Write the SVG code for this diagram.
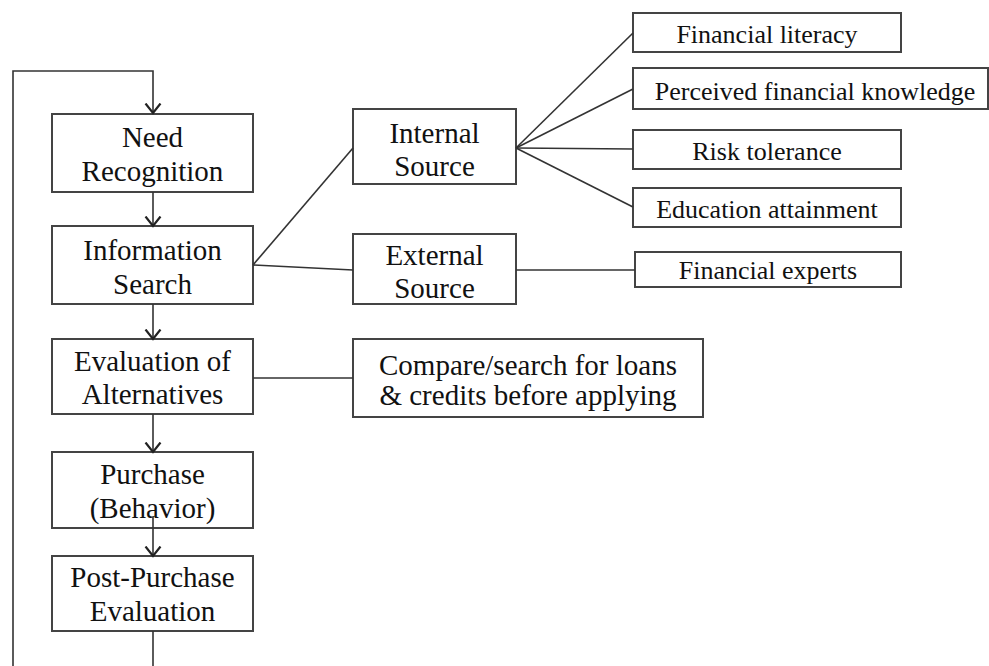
<svg xmlns="http://www.w3.org/2000/svg" width="989" height="666" viewBox="0 0 989 666">
  <defs>
    <style>
      .box { fill: #ffffff; stroke: #444444; stroke-width: 2; }
      .link { fill: none; stroke: #333333; stroke-width: 1.6; }
      .main { font-family: "Liberation Serif", "Times New Roman", serif; font-size: 29px; fill: #111111; text-anchor: middle; }
      .small { font-family: "Liberation Serif", "Times New Roman", serif; font-size: 26px; fill: #111111; text-anchor: middle; }
    </style>
    <!-- open V arrowhead, tip at the end of the line -->
    <marker id="chevron" markerUnits="userSpaceOnUse" markerWidth="12" markerHeight="18" viewBox="0 0 12 18" refX="10.5" refY="9" orient="auto">
      <path d="M1,1.5 L10.5,9 L1,16.5" fill="none" stroke="#222222" stroke-width="2.2"/>
    </marker>
  </defs>

  <g id="need-recognition">
    <rect class="box" x="52" y="114" width="201" height="78"/>
    <text class="main" x="152.5" y="147">Need</text>
    <text class="main" x="152.5" y="181">Recognition</text>
  </g>

  <g id="information-search">
    <rect class="box" x="52" y="226" width="201" height="78"/>
    <text class="main" x="152.5" y="260">Information</text>
    <text class="main" x="152.5" y="294">Search</text>
  </g>

  <g id="evaluation-of-alternatives">
    <rect class="box" x="52" y="339" width="201" height="75"/>
    <text class="main" x="152.5" y="371">Evaluation of</text>
    <text class="main" x="152.5" y="404">Alternatives</text>
  </g>

  <g id="purchase">
    <rect class="box" x="52" y="452" width="201" height="76"/>
    <text class="main" x="152.5" y="484">Purchase</text>
    <text class="main" x="152.5" y="518">(Behavior)</text>
  </g>

  <g id="post-purchase-evaluation">
    <rect class="box" x="52" y="556" width="201" height="75"/>
    <text class="main" x="152.5" y="587">Post-Purchase</text>
    <text class="main" x="152.5" y="621">Evaluation</text>
  </g>

  <g id="internal-source">
    <rect class="box" x="353" y="109" width="163" height="75"/>
    <text class="main" x="434.5" y="143">Internal</text>
    <text class="main" x="434.5" y="176">Source</text>
  </g>

  <g id="external-source">
    <rect class="box" x="353" y="234" width="163" height="70"/>
    <text class="main" x="434.5" y="265">External</text>
    <text class="main" x="434.5" y="298">Source</text>
  </g>

  <g id="compare-search">
    <rect class="box" x="353" y="339" width="350" height="78"/>
    <text class="main" x="528" y="375">Compare/search for loans</text>
    <text class="main" x="528" y="405">&amp; credits before applying</text>
  </g>

  <g id="financial-literacy">
    <rect class="box" x="633" y="13" width="268" height="39"/>
    <text class="small" x="767" y="43">Financial literacy</text>
  </g>

  <g id="perceived-financial-knowledge">
    <rect class="box" x="633" y="68" width="355" height="41"/>
    <text class="small" x="815" y="100">Perceived financial knowledge</text>
  </g>

  <g id="risk-tolerance">
    <rect class="box" x="633" y="130" width="268" height="39"/>
    <text class="small" x="767" y="160">Risk tolerance</text>
  </g>

  <g id="education-attainment">
    <rect class="box" x="633" y="188" width="268" height="39"/>
    <text class="small" x="767" y="218">Education attainment</text>
  </g>

  <g id="financial-experts">
    <rect class="box" x="635" y="252" width="266" height="35"/>
    <text class="small" x="768" y="279">Financial experts</text>
  </g>

  <!-- connectors, drawn over the boxes -->
  <g id="connectors">
    <!-- feedback loop -->
    <path class="link" d="M153,631 L153,666"/>
    <path class="link" d="M13,666 L13,71 L153,71 L153,113" marker-end="url(#chevron)"/>
    <!-- main stage flow -->
    <path class="link" d="M153,192 L153,226" marker-end="url(#chevron)"/>
    <path class="link" d="M153,304 L153,339" marker-end="url(#chevron)"/>
    <path class="link" d="M153,414 L153,452" marker-end="url(#chevron)"/>
    <path class="link" d="M153,517 L153,556" marker-end="url(#chevron)"/>
    <!-- information sources -->
    <path class="link" d="M253,265 L353,148"/>
    <path class="link" d="M253,265 L353,270"/>
    <!-- internal source factors -->
    <path class="link" d="M516,148 L633,33"/>
    <path class="link" d="M516,148 L633,89"/>
    <path class="link" d="M516,148 L633,149"/>
    <path class="link" d="M516,148 L633,207"/>
    <!-- external source -->
    <path class="link" d="M516,270 L635,270"/>
    <!-- evaluation detail -->
    <path class="link" d="M253,378 L353,378"/>
  </g>
</svg>
